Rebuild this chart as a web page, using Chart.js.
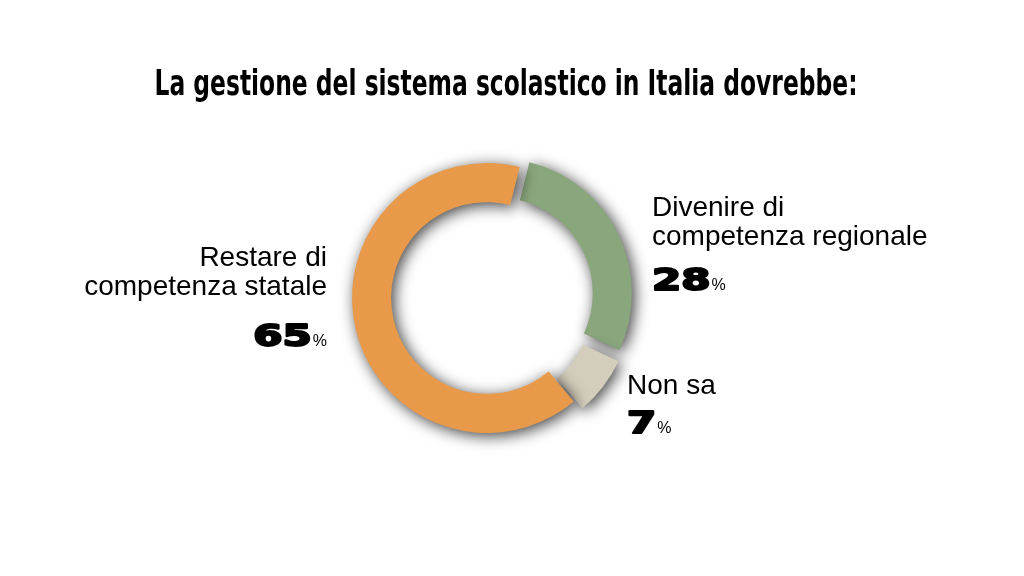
<!DOCTYPE html>
<html>
<head>
<meta charset="utf-8">
<script src="https://cdn.jsdelivr.net/npm/chart.js@4"></script>
<style>
  body { margin: 0; background: #fff; }
  #wrap { width: 1024px; height: 576px; position: relative; }
</style>
</head>
<body>
<div id="wrap"><canvas id="myChart"></canvas></div>
<script>
// Data
const categories = ['Divenire di competenza regionale', 'Non sa', 'Restare di competenza statale'];
const values = [28, 7, 65];
const colors = ['#89A67C', '#D3CDBC', '#E89A4A'];
const offsets = [43, 28, 0];
const titleText = 'La gestione del sistema scolastico in Italia dovrebbe:';

// Shadow under the ring
const shadowPlugin = {
    id: 'shadow',
    beforeDatasetsDraw(chart) {
        const c = chart.ctx;
        c.save();
        c.shadowColor = 'rgba(0,0,0,0.75)';
        c.shadowBlur = 15;
        c.shadowOffsetX = 3;
        c.shadowOffsetY = 3;
    },
    afterDatasetsDraw(chart) {
        chart.ctx.restore();
    }
};

// big wide heavy number + small %
function drawValue(c, val, x, y, align) {
    const txt = String(val);
    const sx = 1.4;
    c.save();
    c.font = 'bold 30px "DejaVu Sans"';
    const numW = c.measureText(txt).width * sx;
    c.font = '16px "Liberation Sans", Arial, sans-serif';
    const pctW = c.measureText('%').width;
    let left = align === 'right' ? x - numW - 1 - pctW : x;
    c.fillStyle = '#000';
    c.strokeStyle = '#000';
    c.lineWidth = 2;
    c.lineJoin = 'round';
    c.textBaseline = 'alphabetic';
    c.textAlign = 'left';
    c.save();
    c.translate(left, y);
    c.scale(sx, 1);
    c.font = 'bold 30px "DejaVu Sans"';
    c.fillText(txt, 0, 0);
    c.strokeText(txt, 0, 0);
    c.restore();
    c.font = '16px "Liberation Sans", Arial, sans-serif';
    c.fillText('%', left + numW + 1, y);
    c.restore();
}

// Title and labels
const labelPlugin = {
    id: 'labels',
    afterDraw(chart) {
        const c = chart.ctx;
        c.save();
        c.fillStyle = '#000';
        // title, squeezed to the condensed width of the original
        c.font = 'bold 36px "Liberation Sans Narrow", "DejaVu Sans Condensed", sans-serif';
        const tw = c.measureText(titleText).width;
        const tsx = 703 / tw;
        c.save();
        c.translate(506, 95);
        c.scale(tsx, 1);
        c.textAlign = 'center';
        c.fillText(titleText, 0, 0);
        c.restore();

        c.font = '28px "Liberation Sans", Arial, sans-serif';
        // green
        c.textAlign = 'left';
        c.fillText('Divenire di', 652, 216);
        c.fillText('competenza regionale', 652, 245);
        drawValue(c, values[0], 652, 290, 'left');
        // beige
        c.font = '28px "Liberation Sans", Arial, sans-serif';
        c.fillText('Non sa', 627, 394);
        drawValue(c, values[1], 627, 433, 'left');
        // orange
        c.font = '28px "Liberation Sans", Arial, sans-serif';
        c.textAlign = 'right';
        c.fillText('Restare di', 327, 266);
        c.fillText('competenza statale', 327, 295);
        drawValue(c, values[2], 327, 346, 'right');
        c.restore();
    }
};

const ctx = document.getElementById('myChart').getContext('2d');
const myChart = new Chart(ctx, {
    type: 'doughnut',
    data: {
        labels: categories,
        datasets: [{
            data: values,
            backgroundColor: colors,
            borderWidth: 0,
            offset: offsets
        }]
    },
    options: {
        responsive: true,
        maintainAspectRatio: false,
        animation: false,
        rotation: 14,
        radius: 135,
        cutout: '71%',
        layout: { padding: { left: 0, right: 50, top: 20, bottom: 0 } },
        plugins: {
            legend: { display: false },
            tooltip: { enabled: false },
            title: { display: false }
        }
    },
    plugins: [shadowPlugin, labelPlugin]
});
</script>
</body>
</html>
